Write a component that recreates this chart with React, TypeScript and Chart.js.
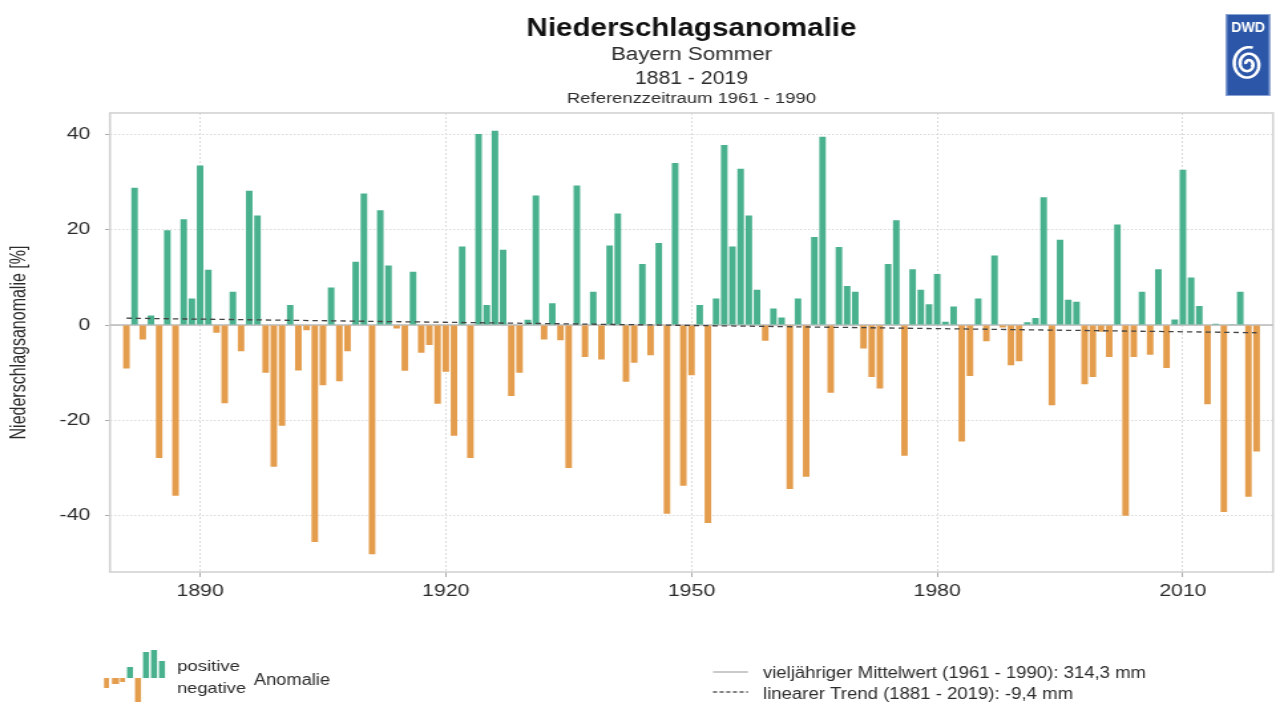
import React, { useEffect, useRef } from "react";
import { Chart, registerables } from "chart.js";

Chart.register(...registerables);

// ---------------- data ----------------
const FIRST_YEAR = 1881;

const anomalies1881to1920 = [
  -9.1, 28.8, -3.0, 2.0, -27.9, 19.9, -35.8, 22.2, 5.6, 33.5,
  11.6, -1.6, -16.4, 7.0, -5.5, 28.2, 23.0, -10.0, -29.7, -21.1,
  4.2, -9.5, -1.1, -45.5, -12.6, 7.9, -11.8, -5.5, 13.3, 27.6,
  -48.1, 24.1, 12.5, -0.7, -9.6, 11.2, -5.8, -4.2, -16.5, -9.8,
];
const anomalies1921to1960 = [
  -23.2, 16.5, -27.9, 40.1, 4.2, 40.8, 15.8, -14.9, -10.0, 1.1,
  27.2, -3.0, 4.6, -3.2, -30.0, 29.3, -6.7, 7.0, -7.2, 16.7,
  23.4, -11.9, -7.9, 12.8, -6.3, 17.2, -39.6, 34.0, -33.7, -10.5,
  4.2, -41.5, 5.6, 37.8, 16.5, 32.8, 23.0, 7.4, -3.3, 3.5,
];
const anomalies1961to2000 = [
  1.6, -34.4, 5.6, -31.8, 18.5, 39.5, -14.2, 16.4, 8.2, 7.0,
  -4.9, -10.9, -13.3, 12.8, 22.0, -27.4, 11.7, 7.4, 4.4, 10.7,
  0.7, 3.9, -24.4, -10.7, 5.6, -3.4, 14.6, -0.5, -8.4, -7.6,
  0.6, 1.5, 26.8, -16.8, 17.9, 5.3, 4.9, -12.4, -10.9, -1.4,
];
const anomalies2001to2019 = [
  -6.7, 21.1, -40.0, -6.7, 7.0, -6.2, 11.7, -9.0, 1.2, 32.6,
  10.0, 4.0, -16.6, 0.3, -39.2, 0.2, 7.0, -36.0, -26.5,
];

const anomalies = [
  ...anomalies1881to1920,
  ...anomalies1921to1960,
  ...anomalies1961to2000,
  ...anomalies2001to2019,
];
const years = anomalies.map((_, i) => FIRST_YEAR + i);

const trendYears = [1881, 2019];
const trendValues = [1.45, -1.6];
const meanYears = [1879, 2021];
const meanValues = [0, 0];

const xTickValues = [1890, 1920, 1950, 1980, 2010];
const yTickValues = [40, 20, 0, -20, -40];

const titleText = "Niederschlagsanomalie";
const subtitleRegion = "Bayern Sommer";
const subtitlePeriod = "1881 - 2019";
const referenceText = "Referenzzeitraum 1961 - 1990";
const yAxisTitle = "Niederschlagsanomalie [%]";
const legendPositive = "positive";
const legendNegative = "negative";
const legendAnomaly = "Anomalie";
const legendMean = "vieljähriger Mittelwert (1961 - 1990): 314,3 mm";
const legendTrend = "linearer Trend (1881 - 2019): -9,4 mm";

// ---------------- styles ----------------
const FONT = "'Liberation Sans', Arial, Helvetica, sans-serif";
const GREEN = "#49b18e";
const ORANGE = "#e49d4d";
const TEXT = "#2b2b2b";

// the picture is horizontally stretched: canvas is drawn narrower and scaled in CSS
const PAGE_W = 1276;
const PAGE_H = 702;
const CANVAS_W = 960;
const SX = PAGE_W / CANVAS_W;
const gx = (x: number) => x / SX;

function stretchText(
  ctx: CanvasRenderingContext2D,
  text: string,
  ix: number,
  y: number,
  font: string,
  targetGlobalW: number,
  align: CanvasTextAlign
) {
  ctx.save();
  ctx.font = font;
  const w = ctx.measureText(text).width;
  const s = targetGlobalW / SX / w;
  ctx.translate(ix, y);
  ctx.scale(s, 1);
  ctx.textAlign = align;
  ctx.textBaseline = "alphabetic";
  ctx.fillText(text, 0, 0);
  ctx.restore();
}

const decorPlugin = {
  id: "decor",
  beforeDatasetsDraw(chart: any) {
    const { ctx, chartArea } = chart;
    ctx.save();
    ctx.strokeStyle = "#d2d2d2";
    ctx.lineWidth = 1.6;
    ctx.strokeRect(
      chartArea.left,
      chartArea.top,
      chartArea.right - chartArea.left,
      chartArea.bottom - chartArea.top
    );
    ctx.restore();
  },
  afterDraw(chart: any) {
    const { ctx, chartArea } = chart;
    const cx = (chartArea.left + chartArea.right) / 2;
    ctx.save();
    ctx.fillStyle = "#111";
    stretchText(ctx, titleText, cx, 36, `bold 26px ${FONT}`, 330, "center");
    ctx.fillStyle = TEXT;
    stretchText(ctx, subtitleRegion, cx, 60, `18px ${FONT}`, 161, "center");
    stretchText(ctx, subtitlePeriod, cx, 84, `18px ${FONT}`, 113, "center");
    stretchText(ctx, referenceText, cx, 103, `14px ${FONT}`, 249, "center");

    // DWD logo
    ctx.fillStyle = "#2c57a8";
    ctx.fillRect(gx(1226), 14, gx(44), 82);
    ctx.strokeStyle = "#8aa3d4";
    ctx.lineWidth = 1;
    ctx.strokeRect(gx(1226) + 0.5, 14.5, gx(44) - 1, 81);
    ctx.fillStyle = "#ffffff";
    stretchText(ctx, "DWD", gx(1248), 32, `bold 15px ${FONT}`, 34, "center");
    ctx.strokeStyle = "#ffffff";
    ctx.lineWidth = 2.6;
    ctx.beginPath();
    const scx = gx(1248);
    const scy = 64;
    const turns = 2.3 * Math.PI * 2;
    let first = true;
    for (let t = 0; t <= turns; t += 0.05) {
      const k = 2 + (13.5 * t) / turns;
      const px = scx + gx(k * Math.cos(t + Math.PI));
      const py = scy + k * 1.1 * Math.sin(t + Math.PI);
      if (first) {
        ctx.moveTo(px, py);
        first = false;
      } else ctx.lineTo(px, py);
    }
    ctx.stroke();

    // legend: anomaly icon
    const base = 678;
    const rect = (x: number, y: number, w: number, h: number) =>
      ctx.fillRect(gx(x), y, gx(w), h);
    ctx.fillStyle = ORANGE;
    rect(104, base, 5, 10);
    rect(112, base, 7, 6);
    rect(120, base, 5, 4);
    rect(135, base, 6, 24);
    ctx.fillStyle = GREEN;
    rect(127, base - 11, 6, 11);
    rect(143, base - 26, 6, 26);
    rect(151, base - 28, 6, 28);
    rect(159, base - 17, 6, 17);

    ctx.fillStyle = TEXT;
    stretchText(ctx, legendPositive, gx(177), 671, `15px ${FONT}`, 63, "left");
    stretchText(ctx, legendNegative, gx(177), 693, `15px ${FONT}`, 69, "left");
    stretchText(ctx, legendAnomaly, gx(254), 685, `16px ${FONT}`, 76, "left");

    // legend: lines
    ctx.strokeStyle = "#b8b8b8";
    ctx.lineWidth = 1.5;
    ctx.beginPath();
    ctx.moveTo(gx(713), 672);
    ctx.lineTo(gx(748), 672);
    ctx.stroke();
    ctx.strokeStyle = "#555";
    ctx.setLineDash([3, 2]);
    ctx.beginPath();
    ctx.moveTo(gx(713), 692);
    ctx.lineTo(gx(748), 692);
    ctx.stroke();
    ctx.setLineDash([]);
    ctx.fillStyle = TEXT;
    stretchText(ctx, legendMean, gx(763), 678, `16px ${FONT}`, 383, "left");
    stretchText(ctx, legendTrend, gx(763), 699, `16px ${FONT}`, 310, "left");
    ctx.restore();
  },
};

export default function App() {
  const canvasRef = useRef<HTMLCanvasElement | null>(null);

  useEffect(() => {
    if (!canvasRef.current) return;
    const chart = new Chart(canvasRef.current, {
      type: "bar",
      data: {
        datasets: [
          {
            type: "line",
            label: "trend",
            data: trendYears.map((x, i) => ({ x, y: trendValues[i] })),
            borderColor: "#444",
            borderWidth: 1.3,
            borderDash: [4, 3],
            pointRadius: 0,
            order: 0,
          } as any,
          {
            type: "bar",
            label: "anomaly",
            data: years.map((x, i) => ({ x, y: anomalies[i] })),
            backgroundColor: anomalies.map((v) => (v >= 0 ? GREEN : ORANGE)),
            borderWidth: 0,
            barPercentage: 0.8,
            categoryPercentage: 1,
            order: 1,
          },
          {
            type: "line",
            label: "mean",
            data: meanYears.map((x, i) => ({ x, y: meanValues[i] })),
            borderColor: "#b8b8b8",
            borderWidth: 1.5,
            pointRadius: 0,
            order: 2,
          } as any,
        ],
      },
      options: {
        responsive: false,
        animation: false,
        devicePixelRatio: 1,
        layout: { padding: { top: 113, right: gx(3), left: 0, bottom: 0 } },
        font: { family: FONT },
        plugins: {
          legend: { display: false },
          tooltip: { enabled: false },
          title: { display: false },
        },
        scales: {
          x: {
            type: "linear",
            min: 1879,
            max: 2021,
            offset: false,
            afterBuildTicks: (scale: any) => {
              scale.ticks = xTickValues.map((v) => ({ value: v }));
            },
            afterFit: (scale: any) => {
              scale.height = PAGE_H - 572;
            },
            ticks: {
              color: TEXT,
              font: { family: FONT, size: 16 },
              padding: 5,
              maxRotation: 0,
              callback: (v: any) => String(v),
            },
            grid: {
              offset: false,
              color: "#dadada",
              lineWidth: 1,
              drawTicks: true,
              tickLength: 5,
              tickColor: "#aaa",
            },
            border: { display: false, dash: [2, 2] },
          },
          y: {
            type: "linear",
            min: -51.8,
            max: 44.5,
            afterBuildTicks: (scale: any) => {
              scale.ticks = yTickValues.map((v) => ({ value: v }));
            },
            afterFit: (scale: any) => {
              scale.width = gx(110);
            },
            ticks: {
              color: TEXT,
              font: { family: FONT, size: 16 },
              padding: 11,
              callback: (v: any) => String(v),
            },
            grid: {
              color: "#dadada",
              lineWidth: 1,
              drawTicks: true,
              tickLength: gx(5),
              tickColor: "#aaa",
            },
            border: { display: false, dash: [1.5, 1.5] },
            title: {
              display: true,
              text: yAxisTitle,
              color: TEXT,
              font: { family: FONT, size: 16 },
              padding: { top: 5, bottom: 0 },
            },
          },
        },
      },
      plugins: [decorPlugin],
    } as any);
    return () => chart.destroy();
  }, []);

  return (
    <div style={{ position: "absolute", left: 0, top: 0, width: PAGE_W, height: PAGE_H, background: "#fff", overflow: "hidden" }}>
      <div
        style={{
          width: CANVAS_W,
          height: PAGE_H,
          transform: `scaleX(${SX})`,
          transformOrigin: "left top",
        }}
      >
        <canvas
          ref={canvasRef}
          width={CANVAS_W}
          height={PAGE_H}
          style={{ display: "block", width: CANVAS_W, height: PAGE_H }}
        />
      </div>
    </div>
  );
}
